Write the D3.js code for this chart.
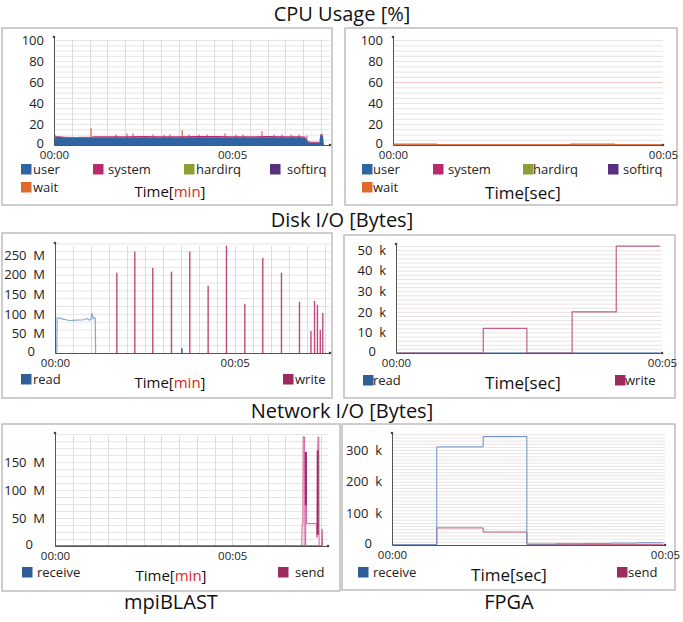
<!DOCTYPE html>
<html><head><meta charset="utf-8">
<script src="https://cdn.jsdelivr.net/npm/d3@7"></script>
<style>body{margin:0;background:#fff}svg{display:block;font-family:"Open Sans",sans-serif}text{white-space:pre}</style>
</head><body><svg id="c" width="683" height="622"></svg>
<script>
// ---------- DATA ----------
// CPU usage, mpiBLAST (time in minutes, values in %)
const cpuMpiTime   = [0, 0.04, 0.3, 0.6, 0.9, 1.05, 1.1, 1.5, 2.0, 2.5, 3.0, 3.5, 4.0, 4.5, 5.0, 5.5, 6.0, 6.5, 6.9, 7.05, 7.12, 7.2, 7.35, 7.45, 7.48, 7.55, 7.58];
const cpuMpiUser   = [0, 7.8, 7.5, 7.4, 7.5, 7.4, 7.3, 7.3, 7.4, 7.5, 7.3, 7.4, 7.5, 7.4, 7.4, 7.3, 7.5, 7.4, 7.3, 7.0, 2.8, 2.2, 2.2, 2.3, 9.0, 9.0, 0];
const cpuMpiSystem = [0, 0.8, 0.3, 0.3, 0.3, 0.3, 1.0, 1.0, 1.0, 1.1, 1.0, 1.0, 1.0, 1.1, 1.0, 1.0, 1.0, 1.0, 1.0, 1.0, 1.2, 0.8, 0.8, 0.8, 1.0, 1.0, 0];
const cpuMpiSysSpikeTime = [1.74, 2.05, 2.22, 2.78, 3.09, 3.26, 3.79, 4.07, 4.3, 4.8, 5.11, 5.31, 6.18, 6.4, 6.66, 6.88, 7.1, 7.5];
const cpuMpiSysSpikeVal  = [10, 11, 11, 10, 9.5, 10, 10, 10, 10, 11, 10, 10, 10, 10, 10, 10, 9, 10.5];
const cpuMpiWaitSpikeTime = [0.03, 1.04, 3.6, 5.84];
const cpuMpiWaitSpikeVal  = [9.5, 16, 14, 13];
// CPU usage, FPGA (time in seconds)
const cpuFpgaTime   = [0, 0.8, 3.3, 4.1, 5];
const cpuFpgaWait   = [0.8, 0, 0.8, 0, 0];
const cpuFpgaSystem = [0.3, 0.3, 0.3, 0.3, 0.3];
// Disk I/O, mpiBLAST (M bytes)
const diskMpiReadTime = [0.05, 0.06, 0.2, 0.4, 0.6, 0.8, 0.9, 0.95, 1.0, 1.03, 1.06, 1.1, 1.12, 1.13];
const diskMpiRead     = [0, 90, 87, 83, 84, 85, 88, 84, 86, 102, 88, 90, 88, 0];
const diskMpiReadSpikeTime = [3.53];
const diskMpiReadSpikeVal  = [12];
const diskMpiWriteTime = [1.72, 2.22, 2.72, 3.24, 3.75, 4.26, 4.77, 5.28, 5.78, 6.3, 6.8, 7.12, 7.22, 7.3, 7.38, 7.45];
const diskMpiWrite     = [205, 259, 218, 208, 259, 172, 274, 126, 243, 205, 131, 56, 133, 123, 59, 102];
// Disk I/O, FPGA (k bytes)
const diskFpgaTime  = [0, 1.64, 2.46, 3.31, 4.14, 4.96];
const diskFpgaWrite = [0, 12, 0, 20, 52, 52];
const diskFpgaRead  = [0, 0, 0, 0, 0, 0];
// Network I/O, mpiBLAST (M bytes)
const netMpiSendTime = [0, 6.96, 6.97, 6.99, 7.0, 7.04, 7.05, 7.07, 7.08, 7.1, 7.38, 7.39, 7.41, 7.42, 7.44, 7.45, 7.52, 7.53, 7.55];
const netMpiSend     = [0, 0, 38, 38, 195, 195, 0, 0, 168, 40, 40, 15, 170, 195, 195, 0, 0, 30, 0];
const netMpiBurstTime = [7.075, 7.41];
const netMpiBurstLow  = [73, 20];
const netMpiBurstHigh = [168, 171];
const netMpiRecvTime = [0, 7.55];
const netMpiRecv     = [0.4, 0.4];
// Network I/O, FPGA (k bytes)
const netFpgaTime = [0, 0.82, 1.67, 2.47, 3.0, 3.5, 4.0, 4.5, 4.97];
const netFpgaRecv = [1, 310, 343, 3, 4, 5, 6, 7, 8];
const netFpgaSend = [0, 54, 41, 2, 2, 2, 2, 2, 2];
// Ticks
const cpuTicks = [0, 20, 40, 60, 80, 100];
const cpuTickLabels = ["0", "20", "40", "60", "80", "100"];
const diskMpiTicks = [0, 50, 100, 150, 200, 250];
const diskMpiTickLabels = ["0", "50  M", "100  M", "150  M", "200  M", "250  M"];
const diskFpgaTicks = [0, 10, 20, 30, 40, 50];
const diskFpgaTickLabels = ["0", "10  k", "20  k", "30  k", "40  k", "50  k"];
const netMpiTicks = [0, 50, 100, 150];
const netMpiTickLabels = ["0", "50  M", "100  M", "150  M"];
const netFpgaTicks = [0, 100, 200, 300];
const netFpgaTickLabels = ["0", "100  k", "200  k", "300  k"];
const timeTicks = [0, 5];
const timeTickLabels = ["00:00", "00:05"];
const cpuLegend = ["user", "system", "hardirq", "softirq", "wait"];
const diskLegend = ["read", "write"];
const netLegend = ["receive", "send"];
const titles = ["CPU Usage [%]", "Disk I/O [Bytes]", "Network I/O [Bytes]"];
const columns = ["mpiBLAST", "FPGA"];

// ---------- COLOURS ----------
const C = {user:"#2f64a3", system:"#b8296e", hardirq:"#8c9e35", softirq:"#58307f", wait:"#dd6b2c",
           read:"#2f5f99", write:"#9e2a60", receive:"#2f5f99", send:"#9e2a60"};

const svg = d3.select("#c");
svg.append("rect").attr("width",683).attr("height",622).attr("fill","#fff");

function panel(o){
  const g = svg.append("g");
  g.append("rect").attr("x",o.box[0]).attr("y",o.box[1]).attr("width",o.box[2]).attr("height",o.box[3])
    .attr("fill","#fff").attr("stroke","#bdbdbd").attr("stroke-width",1.5);
  const x = d3.scaleLinear().domain(o.xd).range(o.xr);
  const y = d3.scaleLinear().domain(o.yd).range(o.yr);
  // grid
  const hg = d3.range(o.hStep, o.yd[1], o.hStep);
  g.append("g").selectAll("line").data(hg).join("line")
    .attr("x1",o.xr[0]).attr("x2",o.xr[1]).attr("y1",d=>y(d)+0.5).attr("y2",d=>y(d)+0.5)
    .attr("stroke",o.hColor||"#e6e6e6").attr("stroke-width",1);
  if (o.redLine!==undefined){
    g.append("line").attr("x1",o.xr[0]).attr("x2",o.xr[1]).attr("y1",y(o.redLine)+0.5).attr("y2",y(o.redLine)+0.5)
      .attr("stroke","#f1cccc").attr("stroke-width",1);
  }
  if (o.vStep){
    const vg = d3.range(o.vStep, o.xd[1], o.vStep);
    g.append("g").selectAll("line").data(vg).join("line")
      .attr("x1",d=>Math.round(x(d))+0.5).attr("x2",d=>Math.round(x(d))+0.5).attr("y1",o.yr[0]).attr("y2",o.yr[1]+3)
      .attr("stroke","#dcdcdc").attr("stroke-width",1);
  }
  // series
  o.series.forEach(s=>{
    if (s.type==="stack"){
      const pts = s.t.map((t,i)=>({t, a:s.a[i], b:s.b[i]}));
      g.append("path").datum(pts).attr("fill",C.user)
        .attr("d",d3.area().x(d=>x(d.t)).y0(y(0)).y1(d=>y(d.a)));
      g.append("path").datum(pts).attr("fill",C.system)
        .attr("d",d3.area().x(d=>x(d.t)).y0(d=>y(d.a)).y1(d=>y(d.a+d.b)));
    } else if (s.type==="spike"){
      g.append("g").selectAll("line").data(s.t.map((t,i)=>({t,v:s.v[i],lo:s.lo?s.lo[i]:0}))).join("line")
        .attr("x1",d=>x(d.t)).attr("x2",d=>x(d.t)).attr("y1",d=>y(d.lo)).attr("y2",d=>y(d.v))
        .attr("stroke",s.color).attr("stroke-width",s.w||1.2).attr("opacity",s.op||1);
    } else {
      g.append("path").datum(s.t.map((t,i)=>[t,s.v[i]])).attr("fill","none")
        .attr("stroke",s.color).attr("stroke-width",s.w||1).attr("opacity",s.op||1)
        .attr("d",d3.line().x(d=>x(d[0])).y(d=>y(d[1])).curve(s.curve||d3.curveLinear));
    }
  });
  // axes
  const ya = d3.axisLeft(y).tickValues(o.ticks).tickFormat((d,i)=>o.tickLabels[i]).tickSize(0).tickPadding(10);
  const yg = g.append("g").attr("transform",`translate(${o.xr[0]},0)`).call(ya);
  yg.select(".domain").attr("stroke","#555").attr("stroke-width",1);
  yg.selectAll("text").attr("font-size",13).attr("fill","#222").attr("font-family","Open Sans")
    .attr("dx",(d,i)=>i===0?(o.zeroShift||0):0)
    .attr("y",(d,i)=>i===0?-2:0);
  const xa = d3.axisBottom(x).tickValues(timeTicks).tickFormat((d,i)=>timeTickLabels[i]).tickSize(0).tickPadding(6);
  const xg = g.append("g").attr("transform",`translate(0,${o.yr[0]})`).call(xa);
  xg.select(".domain").attr("stroke","#555").attr("stroke-width",1);
  xg.selectAll("text").attr("font-size",11.5).attr("fill","#222").attr("font-family","Open Sans");
  g.append("circle").attr("cx",o.xr[0]).attr("cy",o.yr[1]).attr("r",1.3).attr("fill","#444");
  g.append("circle").attr("cx",o.xr[1]).attr("cy",o.yr[0]).attr("r",1.3).attr("fill","#444");
  // legend
  o.legend.forEach((L,i)=>{
    g.append("rect").attr("x",L[1]).attr("y",L[2]).attr("width",10.5).attr("height",10.5).attr("fill",C[o.legendNames[i]]);
    g.append("text").attr("x",L[3]).attr("y",L[2]+9.5).attr("font-size",13).attr("fill","#222").text(o.legendNames[i]);
  });
  // time label
  const tl = g.append("text").attr("x",o.tl[0]).attr("y",o.tl[1]).attr("text-anchor","middle")
    .attr("font-size",o.tl[2]).attr("fill","#111");
  if (o.unit==="min"){
    tl.append("tspan").text("Time[");
    tl.append("tspan").attr("fill","#e2231a").text("min");
    tl.append("tspan").text("]");
  } else tl.text("Time[sec]");
}

const cpuLegMpi = [[0,21,164,33],[1,93,164,108],[2,184,164,196],[3,270,164,287],[4,21,182,33]];
const cpuLegFpga = [[0,362,164,373],[1,433,164,448],[2,523,164,533],[3,608,164,623],[4,362,182,373]];

panel({box:[2,28,330,177], xd:[0,7.75], xr:[54,330], yd:[0,103], yr:[145,37],
  hStep:5, vStep:0.5, ticks:cpuTicks, tickLabels:cpuTickLabels, legend:cpuLegMpi, legendNames:cpuLegend,
  tl:[170,197,15], unit:"min",
  series:[
    {type:"spike", t:cpuMpiSysSpikeTime, v:cpuMpiSysSpikeVal, color:"#d2457a", w:1},
    {type:"spike", t:cpuMpiWaitSpikeTime, v:cpuMpiWaitSpikeVal, color:C.wait, w:1.2},
    {type:"stack", t:cpuMpiTime, a:cpuMpiUser, b:cpuMpiSystem}
  ]});
panel({box:[345,28,332,177], xd:[0,5], xr:[393,663], yd:[0,103], yr:[145,37],
  hStep:5, hColor:"#e9e3e3", redLine:60, ticks:cpuTicks, tickLabels:cpuTickLabels, legend:cpuLegFpga, legendNames:cpuLegend,
  tl:[523,199,17], unit:"sec",
  series:[
    {type:"line", t:cpuFpgaTime, v:cpuFpgaSystem, color:C.system, w:1, curve:d3.curveStepAfter, op:0.6},
    {type:"line", t:cpuFpgaTime, v:cpuFpgaWait, color:C.wait, w:1.3, curve:d3.curveStepAfter}
  ]});
panel({box:[2,233,330,165], xd:[0,7.65], xr:[55,330], yd:[0,281], yr:[353,243],
  hStep:20, vStep:0.5, ticks:diskMpiTicks, tickLabels:diskMpiTickLabels, zeroShift:-10,
  legend:[[0,21,374,33],[1,283,374,295]], legendNames:diskLegend, tl:[170,388,15], unit:"min",
  series:[
    {type:"line", t:diskMpiReadTime, v:diskMpiRead, color:"#86a8cf", w:1.2},
    {type:"spike", t:diskMpiReadSpikeTime, v:diskMpiReadSpikeVal, color:C.read, w:1.5},
    {type:"spike", t:diskMpiWriteTime, v:diskMpiWrite, color:"#bf4a80", w:1.4}
  ]});
panel({box:[344,235,331,163], xd:[0,5], xr:[396,662], yd:[0,53], yr:[353,244],
  hStep:2, hColor:"#e9e3e3", ticks:diskFpgaTicks, tickLabels:diskFpgaTickLabels, zeroShift:-10,
  legend:[[0,363,375,373],[1,615,375,625]], legendNames:diskLegend, tl:[523,389,17], unit:"sec",
  series:[
    {type:"line", t:diskFpgaTime, v:diskFpgaRead, color:C.read, w:1, curve:d3.curveStepAfter},
    {type:"line", t:diskFpgaTime, v:diskFpgaWrite, color:"#c06088", w:1.2, curve:d3.curveStepAfter}
  ]});
panel({box:[2,424,338,167], xd:[0,7.7], xr:[55,328], yd:[0,202], yr:[546,433],
  hStep:12.5, vStep:0.5, ticks:netMpiTicks, tickLabels:netMpiTickLabels, zeroShift:-12,
  legend:[[0,22,567,37],[1,278,567,295]], legendNames:netLegend, tl:[171,581,15], unit:"min",
  series:[
    {type:"line", t:netMpiRecvTime, v:netMpiRecv, color:C.receive, w:1},
    {type:"line", t:netMpiSendTime, v:netMpiSend, color:"#d0609a", w:1},
    {type:"spike", t:netMpiBurstTime, v:netMpiBurstHigh, lo:netMpiBurstLow, color:C.send, w:2}
  ]});
panel({box:[342,424,333,166], xd:[0,5], xr:[392,665], yd:[0,354], yr:[545,433],
  hStep:10, hColor:"#e9e3e3", ticks:netFpgaTicks, tickLabels:netFpgaTickLabels, zeroShift:-10,
  legend:[[0,358,567,373],[1,617,567,628]], legendNames:netLegend, tl:[509,581,17], unit:"sec",
  series:[
    {type:"line", t:netFpgaTime, v:netFpgaSend, color:"#c0587f", w:1, curve:d3.curveStepAfter},
    {type:"line", t:netFpgaTime, v:netFpgaRecv, color:"#6c8fc6", w:1, curve:d3.curveStepAfter}
  ]});

// titles
[[21],[227],[418]].forEach((p,i)=>{
  svg.append("text").attr("x",342).attr("y",p[0]).attr("text-anchor","middle").attr("font-size",20).attr("fill","#111").text(titles[i]);
});
svg.append("text").attr("x",171).attr("y",609).attr("text-anchor","middle").attr("font-size",20).attr("fill","#111").text(columns[0]);
svg.append("text").attr("x",509).attr("y",609).attr("text-anchor","middle").attr("font-size",20).attr("fill","#111").text(columns[1]);
</script></body></html>
